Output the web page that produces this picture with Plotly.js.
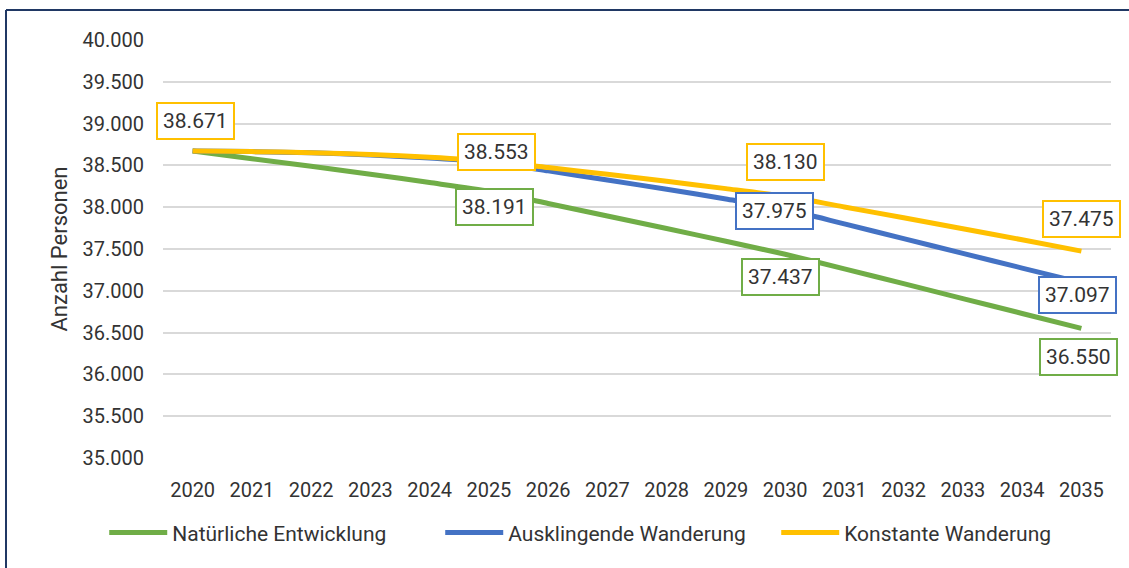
<!DOCTYPE html>
<html><head><meta charset="utf-8">
<script src="https://cdn.plot.ly/plotly-3.0.1.min.js"></script>
<style>html,body{margin:0;padding:0;background:#fff}#c{width:1129px;height:568px}</style>
</head><body><div id="c"></div>
<script>
const years = ['2020','2021','2022','2023','2024','2025','2026','2027','2028','2029','2030','2031','2032','2033','2034','2035'];
const natuerlich = [38671,38580,38490,38395,38295,38191,38045,37895,37745,37592,37437,37262,37085,36907,36729,36550];
const ausklingend = [38671,38665,38650,38625,38588,38540,38435,38325,38215,38098,37975,37800,37624,37448,37272,37097];
const konstant = [38671,38665,38652,38630,38597,38553,38475,38393,38310,38222,38130,38003,37873,37742,37610,37475];
const seriesNames = ['Natürliche Entwicklung','Ausklingende Wanderung','Konstante Wanderung'];
const colors = ['#70AD47','#4472C4','#FFC000'];
const yTicks = [35000,35500,36000,36500,37000,37500,38000,38500,39000,39500,40000];

// labelled points: [series index, year, x shift, y shift]
const labels = [
  [2,'2020',3,30],
  [2,'2025',8,9],
  [0,'2025',6,-16],
  [2,'2030',0,34],
  [1,'2030',-11,-2],
  [0,'2030',-5,-23],
  [2,'2035',0,32],
  [1,'2035',-4,-12],
  [0,'2035',-3,-29]
];
const data = [natuerlich, ausklingend, konstant];
const fmt = v => String(v).replace(/\B(?=(\d{3})+(?!\d))/g,'.');

const traces = data.map((d,i)=>({
  type:'scatter', mode:'lines', x:years, y:d, name:seriesNames[i],
  line:{color:colors[i], width:5, shape:'spline', smoothing:0.6}
}));

const annotations = labels.map(([s,yr,dx,dy])=>{
  const idx = years.indexOf(yr);
  const v = data[s][idx];
  return {x:idx, y:v, xref:'x', yref:'y', text:fmt(v), showarrow:false,
    xshift:dx, yshift:dy, bgcolor:'#fff', bordercolor:colors[s], borderwidth:2, borderpad:5,
    font:{family:'Roboto, sans-serif', size:21, color:'#333'}};
});

const layout = {
  width:1129, height:568,
  margin:{l:163, r:18, t:40, b:110},
  paper_bgcolor:'#fff', plot_bgcolor:'#fff',
  separators:',.',
  font:{family:'Roboto, sans-serif', size:21, color:'#333'},
  xaxis:{type:'category', range:[-0.5,15.5], showgrid:false, zeroline:false, showline:false,
    ticks:'', ticklabelstandoff:18, tickfont:{size:20, color:'#333'}, fixedrange:true, automargin:false},
  yaxis:{range:[35000,40000], tickvals:yTicks, tickformat:',d', showgrid:true, gridcolor:'#d9d9d9', gridwidth:2,
    zeroline:false, showline:false, ticks:'', ticklabelstandoff:18, tickfont:{size:20, color:'#333'}, automargin:false,
    title:{text:'Anzahl Personen', font:{size:22, color:'#333'}, standoff:8}},
  legend:{orientation:'h', x:-0.062, xanchor:'left', y:-0.13, yanchor:'top', font:{size:21, color:'#333'},
    itemwidth:58, entrywidth:263, entrywidthmode:'pixels'},
  showlegend:true,
  annotations:annotations,
  shapes:[
    {type:'line', xref:'paper', yref:'paper', x0:(6-163)/948, x1:(1140-163)/948, y0:(458-10)/418, y1:(458-10)/418, line:{color:'#203864', width:2}},
    {type:'line', xref:'paper', yref:'paper', x0:(6-163)/948, x1:(6-163)/948, y0:(458-10)/418, y1:(458-580)/418, line:{color:'#203864', width:2}}
  ]
};
Plotly.newPlot('c', traces, layout, {displayModeBar:false, staticPlot:true});
</script></body></html>
